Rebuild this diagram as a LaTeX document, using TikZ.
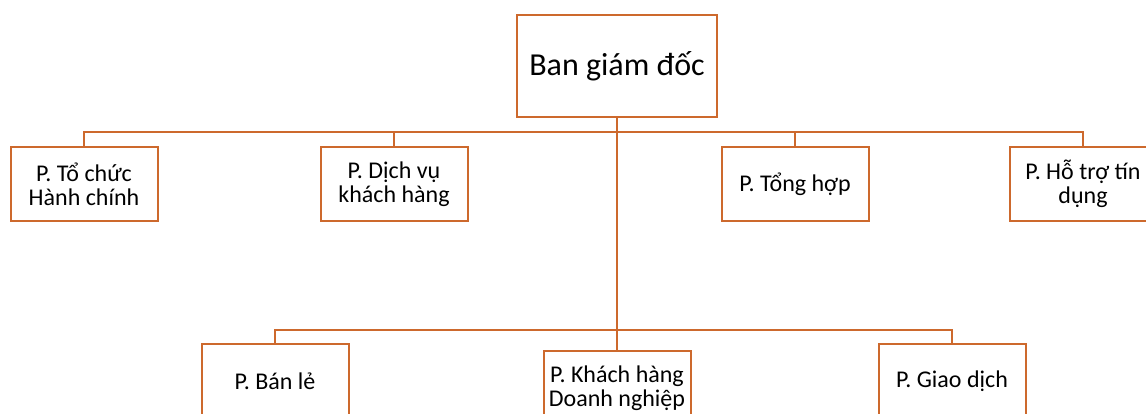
\documentclass[tikz,border=0pt]{standalone}
\usepackage{fontspec}
\setmainfont{Carlito}
\usepackage{tikz}
\usetikzlibrary{positioning}
\definecolor{boxline}{RGB}{205,105,45}
\tikzset{
  x=0.75pt, y=-0.75pt, % one unit is one pixel of the reference
  every node/.style={font=\fontsize{18}{18}\selectfont}, % text of the departments
  link/.style={draw=boxline, line width=1.3pt}, % lines between the boxes
}

\begin{document}
\begin{tikzpicture}[dept/.style={rectangle, draw=boxline, line width=1.5pt, fill=white, align=center, minimum width=147*0.75pt, minimum height=74*0.75pt, inner sep=2pt},
                    boss/.style={dept, minimum width=200*0.75pt, minimum height=102*0.75pt, font=\fontsize{24}{29}\selectfont}]
    \useasboundingbox (0,0) rectangle (1146,414);

    \node[boss] (BGD) at (617,66) {Ban giám đốc};

    \node[dept] (TCHC) at (84,184) {P. Tổ chức\\Hành chính};
    \node[dept] (DVKH) at (394,184) {P. Dịch vụ\\khách hàng};
    \node[dept] (TH) at (795,184) {P. Tổng hợp};
    \node[dept] (HTTD) at (1083,184) {P. Hỗ trợ tín\\dụng};

    \node[dept] (BL) at (275,381) {P. Bán lẻ};
    \node[dept] (KHDN) at (617,388) {P. Khách hàng\\Doanh nghiệp};
    \node[dept] (GD) at (952,381) {P. Giao dịch};

    \coordinate (UPPER) at (617,132);
    \coordinate (LOWER) at (617,330);

    \draw[link] (BGD) -- (KHDN);
    \draw[link] (TCHC) |- (UPPER) -| (HTTD);
    \draw[link] (DVKH) -- (DVKH.north |- UPPER);
    \draw[link] (TH) -- (TH.north |- UPPER);
    \draw[link] (BL) |- (LOWER) -| (GD);
  \end{tikzpicture}
\end{document}
